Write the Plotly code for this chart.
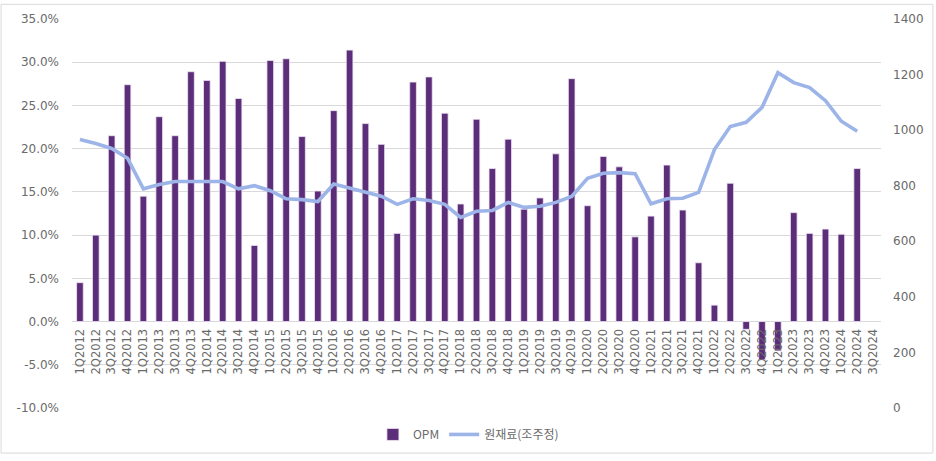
import plotly.graph_objects as go

quarters = [
    "1Q2012", "2Q2012", "3Q2012", "4Q2012",
    "1Q2013", "2Q2013", "3Q2013", "4Q2013",
    "1Q2014", "2Q2014", "3Q2014", "4Q2014",
    "1Q2015", "2Q2015", "3Q2015", "4Q2015",
    "1Q2016", "2Q2016", "3Q2016", "4Q2016",
    "1Q2017", "2Q2017", "3Q2017", "4Q2017",
    "1Q2018", "2Q2018", "3Q2018", "4Q2018",
    "1Q2019", "2Q2019", "3Q2019", "4Q2019",
    "1Q2020", "2Q2020", "3Q2020", "4Q2020",
    "1Q2021", "2Q2021", "3Q2021", "4Q2021",
    "1Q2022", "2Q2022", "3Q2022", "4Q2022",
    "1Q2023", "2Q2023", "3Q2023", "4Q2023",
    "1Q2024", "2Q2024", "3Q2024",
]

opm = [
    4.5, 10.0, 21.5, 27.4,
    14.5, 23.7, 21.5, 28.9,
    27.9, 30.1, 25.8, 8.8,
    30.2, 30.4, 21.4, 15.1,
    24.4, 31.4, 22.9, 20.5,
    10.2, 27.7, 28.3, 24.1,
    13.6, 23.4, 17.7, 21.1,
    13.0, 14.3, 19.4, 28.1,
    13.4, 19.1, 17.9, 9.8,
    12.2, 18.1, 12.9, 6.8,
    1.9, 16.0, -0.9, -4.4,
    -3.4, 12.6, 10.2, 10.7,
    10.1, 17.7, None,
]

raw_material = [
    966, 952, 934, 899,
    789, 804, 815, 815,
    818, 815, 789, 800,
    782, 753, 750, 743,
    806, 792, 776, 762,
    733, 753, 747, 733,
    686, 708, 711, 740,
    722, 726, 740, 761,
    827, 845, 847, 843,
    735, 753, 755, 776,
    930, 1013, 1028, 1082,
    1207, 1171, 1153, 1106,
    1032, 996, None,
]

left_ticks = [-10, -5, 0, 5, 10, 15, 20, 25, 30, 35]
right_ticks = [0, 200, 400, 600, 800, 1000, 1200, 1400]

FONT = "DejaVu Sans"
TXT = "#6a6a6a"
GRID = "#d9d9d9"

fig = go.Figure()
fig.add_trace(go.Bar(
    x=quarters, y=opm, name="OPM",
    marker=dict(color="#5c2d78", line=dict(color="#efe6f5", width=0.8)),
    yaxis="y",
))
fig.add_trace(go.Scatter(
    x=quarters, y=raw_material, name="원재료(조주정)",
    mode="lines", line=dict(color="#9db4e8", width=3.6),
    yaxis="y2", connectgaps=False,
))

fig.update_layout(
    width=936, height=461,
    margin=dict(l=72, r=54, t=16, b=48),
    paper_bgcolor="white", plot_bgcolor="white",
    bargap=0.58,
    font=dict(family=FONT, size=12, color=TXT),
    showlegend=True,
    legend=dict(orientation="h", x=0.49, xanchor="center", y=-0.068, yanchor="middle",
                font=dict(family="Noto Sans CJK KR", size=12, color=TXT),
                itemwidth=30, bgcolor="rgba(0,0,0,0)"),
    xaxis=dict(
        type="category", anchor="free", position=10 / 45,
        showgrid=False, showline=False, zeroline=False,
        tickangle=-90, ticks="", ticklabelstandoff=4,
        tickfont=dict(family=FONT, size=11.5, color=TXT),
    ),
    yaxis=dict(
        range=[-10, 35], tickmode="array", tickvals=left_ticks,
        ticktext=[f"{v:.1f}%" for v in left_ticks],
        showgrid=True, gridcolor=GRID, gridwidth=1.2,
        zeroline=True, zerolinecolor=GRID, zerolinewidth=1.2,
        showline=False, ticks="", ticklabelstandoff=12,
        tickfont=dict(family=FONT, size=12, color=TXT),
    ),
    yaxis2=dict(
        range=[0, 1400], overlaying="y", side="right",
        tickmode="array", tickvals=right_ticks,
        showgrid=False, zeroline=False, showline=False,
        ticks="", ticklabelstandoff=11,
        tickfont=dict(family=FONT, size=12, color=TXT),
    ),
    shapes=[dict(
        type="rect", xref="paper", yref="paper",
        x0=(1 - 72) / 810, x1=(934 - 72) / 810,
        y0=(413 - 459) / 397, y1=(413 - 1) / 397,
        line=dict(color="#d9d9d9", width=1), fillcolor="rgba(0,0,0,0)",
        layer="below",
    )],
)

fig.write_html(
    "out.html",
    config={"displayModeBar": False},
    post_script="document.body.style.margin='0';document.body.style.padding='0';",
)
